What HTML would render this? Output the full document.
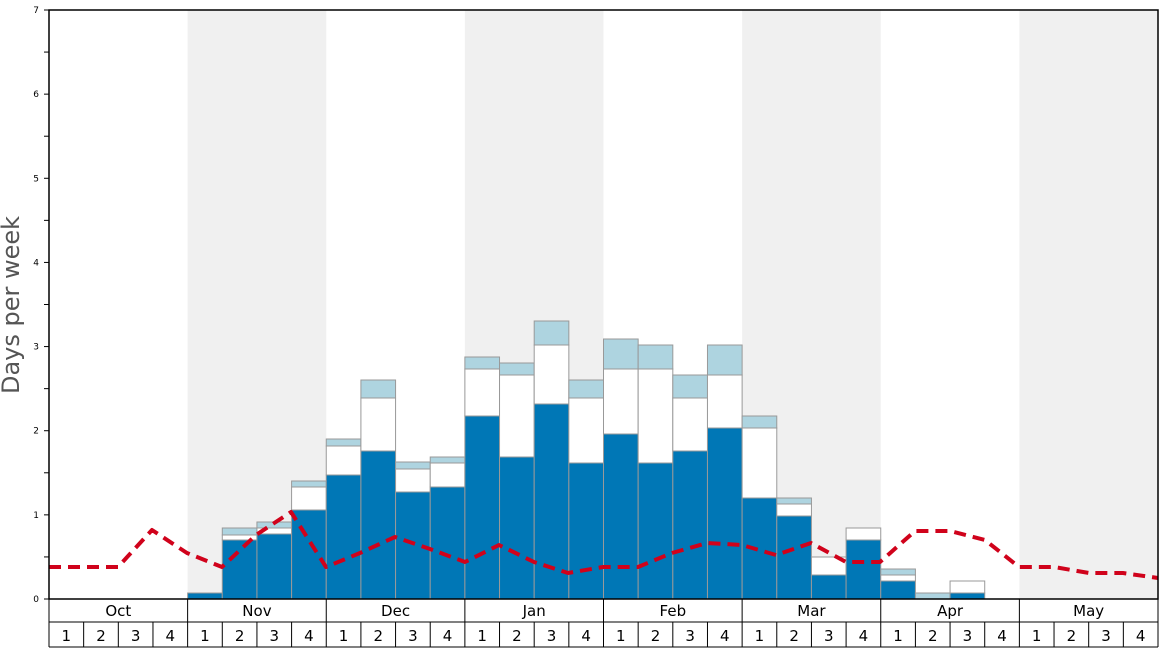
<!DOCTYPE html>
<html><head><meta charset="utf-8"><style>
html,body{margin:0;padding:0;background:#fff;}
svg{display:block;font-family:"DejaVu Sans","Liberation Sans",sans-serif;}
</style></head><body>
<svg id="s" width="1168" height="648" xmlns="http://www.w3.org/2000/svg"></svg>
<script>
const s=document.getElementById('s');
let h='';
const X0=49,X1=1158,Y0=599,Y7=10,U=(Y0-Y7)/7,MW=(X1-X0)/8,WW=MW/4;
[1,3,5,7].forEach(i=>{h+=`<rect x="${X0+i*MW}" y="${Y7}" width="${MW}" height="${Y0-Y7}" fill="#f0f0f0"/>`;});
const b=[[4,593,593,593],[5,540,535,528],[6,534,528,522],[7,510,487,481],
[8,475,446,439],[9,451,398,380],[10,492,469,462],[11,487,463,457],
[12,416,369,357],[13,457,375,363],[14,404,345,321],[15,463,398,380],
[16,434,369,339],[17,463,369,345],[18,451,398,375],[19,428,375,345],
[20,498,428,416],[21,516,504,498],[22,575,557,557],[23,540,528,528],
[24,581,575,569],[25,599,599,593],[26,593,581,581]];
b.forEach(([w,d,wt,l])=>{const x=X0+w*WW;
 if(l<wt)h+=`<rect x="${x}" y="${l}" width="${WW}" height="${wt-l}" fill="#aed4e0" stroke="#999" stroke-width="1"/>`;
 if(wt<d)h+=`<rect x="${x}" y="${wt}" width="${WW}" height="${d-wt}" fill="#fff" stroke="#999" stroke-width="1"/>`;
 if(d<Y0)h+=`<rect x="${x}" y="${d}" width="${WW}" height="${Y0-d}" fill="#0077b6" stroke="#999" stroke-width="1"/>`;
});
const p=[[49,567],[118,567],[152,530],[187,553],[222,567],[256,535],[291,512],[326,567],[360,553],[395,537],[430,549],[465,562],[499,545],[534,562],[568,573],[603,567],[638,567],[672,553],[707,543],[742,545],[776,555],[811,543],[846,562],[880,562],[915,531],[950,531],[985,540],[1019,567],[1054,567],[1089,573],[1123,573],[1158,578]];
h+=`<polyline points="${p.map(q=>q.join(',')).join(' ')}" fill="none" stroke="#d0021b" stroke-width="4" stroke-linejoin="round" stroke-dasharray="12,7"/>`;
h+=`<rect x="${X0}" y="${Y7}" width="${X1-X0}" height="${Y0-Y7}" fill="none" stroke="#000" stroke-width="1.5"/>`;
for(let i=0;i<=14;i++){const y=Y0-i*U/2;h+=`<line x1="${X0-5}" x2="${X0}" y1="${y}" y2="${y}" stroke="#000"/>`;
 if(i%2==0)h+=`<text x="${X0-10}" y="${y+3}" font-size="9" text-anchor="end">${i/2}</text>`;}
h+=`<text transform="translate(19,305) rotate(-90)" font-size="24" fill="#555" text-anchor="middle">Days per week</text>`;
const M=['Oct','Nov','Dec','Jan','Feb','Mar','Apr','May'];
h+=`<line x1="${X0}" x2="${X1}" y1="622" y2="622" stroke="#000"/><line x1="${X0}" x2="${X1}" y1="647" y2="647" stroke="#000"/>`;
for(let m=0;m<8;m++){const x=X0+m*MW;
 h+=`<line x1="${x}" x2="${x}" y1="599" y2="647" stroke="#000"/>`;
 h+=`<text x="${x+MW/2}" y="616" font-size="15" text-anchor="middle">${M[m]}</text>`;
 for(let w=0;w<4;w++){const wx=x+w*WW;if(w)h+=`<line x1="${wx}" x2="${wx}" y1="622" y2="647" stroke="#000"/>`;
  h+=`<text x="${wx+WW/2}" y="641" font-size="15" text-anchor="middle">${w+1}</text>`;}}
h+=`<line x1="${X1}" x2="${X1}" y1="599" y2="647" stroke="#000"/>`;
s.innerHTML=h;
</script>
</body></html>
